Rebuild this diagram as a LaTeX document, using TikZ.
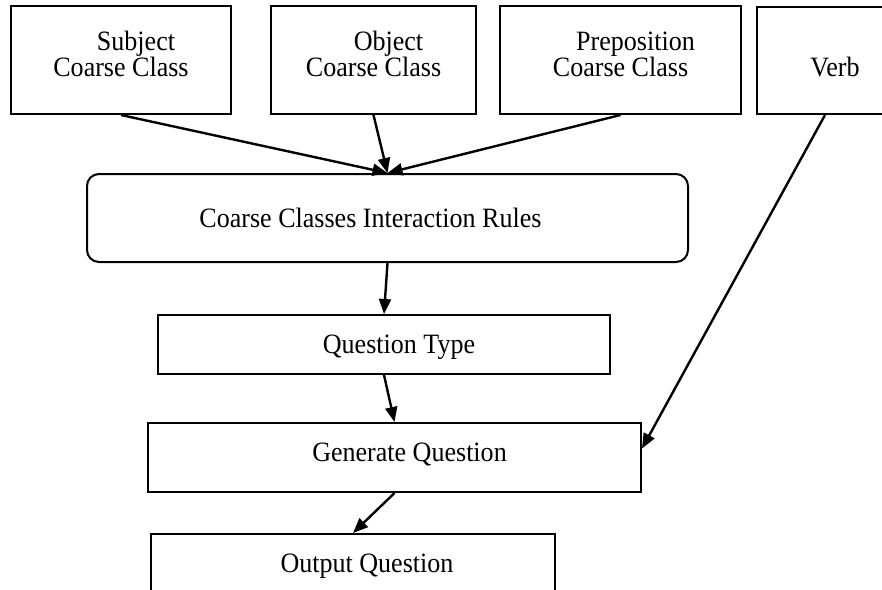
\documentclass[tikz,border=0pt]{standalone}
\usepackage{fontspec}
\setmainfont[FakeStretch=0.93]{Liberation Serif}
\usepackage{tikz}
\usetikzlibrary{arrows.meta, positioning}
\newcommand\flowfont{\fontsize{14pt}{13pt}\selectfont}

\begin{document}
\begin{tikzpicture}[x=0.5pt, y=-0.5pt,
        font=\flowfont,
        box/.style={draw, line width=1pt, inner sep=0pt, text height=9.4pt, text depth=0pt},
        classbox/.style={box, align=center, minimum height=54pt, text height=21pt, text depth=5pt},
        arr/.style={-{Triangle[length=7.5pt, width=6pt]}, line width=1.2pt}]
        \useasboundingbox (0,0) rectangle (882,589);
        \node[classbox, minimum width=110pt] (subj) at (121,60) {\hspace*{15pt}Subject\\Coarse Class};
        \node[classbox, minimum width=102.5pt] (obj) at (373.5,60) {\hspace*{15pt}Object\\Coarse Class};
        \node[classbox, minimum width=120.5pt] (prep) at (620.5,60) {\hspace*{15pt}Preposition\\Coarse Class};
        \node[box, minimum width=78pt, minimum height=53.5pt, text height=18pt, text depth=2pt] (verb) at (835,60.5) {Verb};
        \node[box, rounded corners=6pt, minimum width=300.5pt, minimum height=44pt] (rules) at (387.5,218) {\hspace*{-17pt}Coarse Classes Interaction Rules};
        \node[box, minimum width=226pt, minimum height=29.5pt] (qtype) at (384,344.5) {\hspace*{15pt}Question Type};
        \node[box, minimum width=246.5pt, minimum height=34.5pt, text depth=5.5pt] (gen) at (394.5,457.5) {\hspace*{15pt}Generate Question};
        \node[box, minimum width=202pt, minimum height=29pt] (out) at (353,563) {\hspace*{14pt}Output Question};
        \foreach \n in {subj, obj, prep}
          \draw[arr] (\n.south) -- (rules.north);
        \draw[arr] (rules.south) -- (qtype.north);
        \draw[arr] (qtype.south) -- (gen.north);
        \draw[arr] ([xshift=-5pt]verb.south) -- ([yshift=4.5pt]gen.east);
        \draw[arr] (gen.south) -- (out.north);
      \end{tikzpicture}
\end{document}
